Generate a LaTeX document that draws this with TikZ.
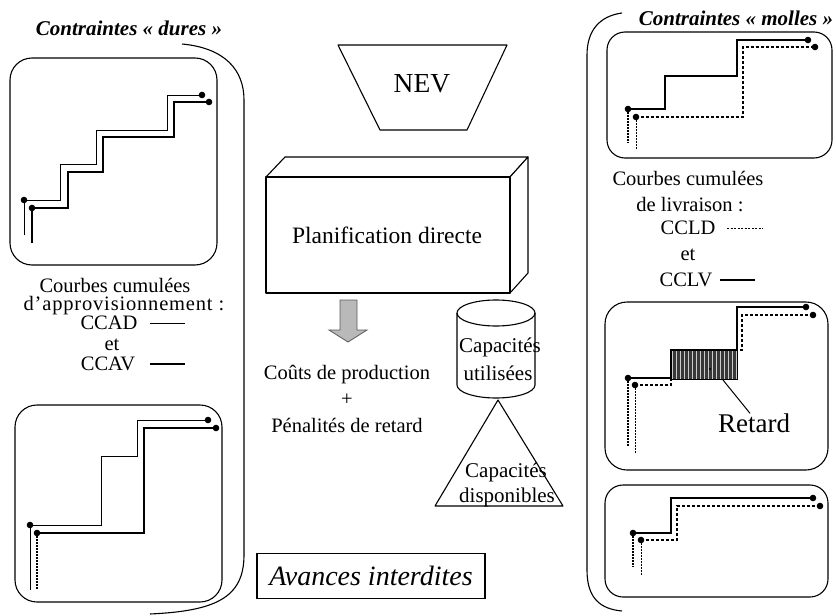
\documentclass[tikz,border=0pt]{standalone}
\usepackage{fontspec}
\setmainfont{Liberation Serif}
\begin{document}
\begin{tikzpicture}[x=1pt,y=-1pt]
\tikzset{
  frame/.style={draw, line width=1.1pt, rounded corners=22pt},
  brk/.style={line width=1.1pt},
  thinc/.style={line width=1pt},
  thickc/.style={line width=2.2pt},
  dashc/.style={line width=1.3pt, dash pattern=on 3pt off 2pt},
  dotc/.style={line width=1.7pt, dash pattern=on 1.5pt off 1.5pt},
  thindot/.style={line width=0.9pt, dash pattern=on 1.5pt off 1.5pt},
  body/.style={font=\fontsize{20.5}{22}\selectfont, inner sep=0pt},
  ttl/.style={font=\fontsize{21}{24}\selectfont\bfseries\itshape, inner sep=0pt},
  caps/.style={font=\fontsize{21}{24}\selectfont, inner sep=0pt},
  shape3d/.style={draw, line width=1.1pt, fill=white, line join=round}
}
\useasboundingbox (0,0) rectangle (836,616);

% ---------- brackets ----------
\draw[brk] (182,44) .. controls (225,48) and (244,70) .. (244,100) -- (244,555)
  .. controls (244,598) and (215,611) .. (150,614);
\draw[brk] (622,13) .. controls (600,16) and (587,30) .. (587,55) -- (587,570)
  .. controls (587,598) and (600,609) .. (622,611);

% ---------- titles ----------
\node[ttl] (tdures) at (129,28) {Contraintes « dures »};
\node[ttl] (tmolles) at (736,18) {Contraintes « molles »};

% ---------- top-left box ----------
\draw[frame] (10,58) rectangle (217,265);
\draw[thinc] (24,235) -- (24,200) -- (60,200) -- (60,164) -- (96,164) -- (96,130)
  -- (167,130) -- (167,95) -- (202,95);
\draw[thickc] (32,243) -- (32,208) -- (68,208) -- (68,172) -- (103,172) -- (103,137)
  -- (174,137) -- (174,102) -- (209,102);
\foreach \p in {(24,200),(202,95),(32,208),(209,102)} \fill \p circle[radius=3.3];

% ---------- left legend ----------
\node[body] (lc1) at (115,285) {Courbes cumulées};
\node[body, font=\fontsize{20.5}{22}\selectfont\addfontfeature{LetterSpace=4}] (lc2) at (124,306) {d’approvisionnement :};
\node[body] (lccad) at (109,323) {CCAD};
\node[body] (let) at (112,345) {et};
\node[body] (lccav) at (108,364) {CCAV};
\draw[thinc] (150,323) -- (185,323);
\draw[thickc] (150,364) -- (185,364);

% ---------- bottom-left box ----------
\draw[frame] (15,405) rectangle (222,602);
\draw[thinc] (30,590) -- (30,525) -- (101,525) -- (101,456) -- (137,456) -- (137,420) -- (208,420);
\draw[thickc] (37,533) -- (144,533) -- (144,428) -- (216,428);
\draw[dotc] (37,533) -- (37,590);
\foreach \p in {(30,525),(208,420),(37,533),(216,428)} \fill \p circle[radius=3.3];

% ---------- NEV ----------
\draw[shape3d] (338,45) -- (507,45) -- (467,130) -- (380,130) -- cycle;
\node[font=\fontsize{27.5}{30}\selectfont, inner sep=0pt] (nev) at (422,84) {NEV};

% ---------- Planification directe box ----------
\draw[shape3d] (266,177) -- (285,157) -- (528,157) -- (510,177) -- cycle;
\draw[shape3d] (510,177) -- (528,157) -- (528,273) -- (510,293) -- cycle;
\draw[shape3d] (266,177) rectangle (510,293);
\node[font=\fontsize{23.5}{26}\selectfont, inner sep=0pt] (plan) at (387,235) {Planification directe};

% ---------- gray arrow ----------
\draw[fill=gray!55, draw=black!65, line width=0.8pt]
  (340,300) -- (357,300) -- (357,330) -- (367,330) -- (348,342) -- (329,330) -- (340,330) -- cycle;

\node[body] (couts) at (347,375) {Coûts de production};
\node[body] (plus) at (347,400) {+};
\node[body] (pen) at (347,425) {Pénalités de retard};

% ---------- triangle & cylinder ----------
\draw[shape3d] (498,400) -- (563,506) -- (435,506) -- cycle;
\node[caps] (cdisp1) at (506,472) {Capacités};
\node[caps] (cdisp2) at (507,497) {disponibles};
\draw[shape3d] (457,313) -- (457,385) arc[start angle=180, end angle=0, x radius=39, y radius=13] -- (535,313);
\draw[line width=1.1pt] (496,313) ellipse[x radius=39, y radius=13];
\node[caps] (cutil1) at (500,347) {Capacités};
\node[caps] (cutil2) at (498,373) {utilisées};

% ---------- Avances interdites ----------
\node[draw, line width=1.1pt, minimum width=228pt, minimum height=45pt, inner sep=0pt,
  font=\fontsize{28}{30}\selectfont\itshape] (avances) at (371,576) {Avances interdites};

% ---------- top-right box ----------
\draw[frame, rounded corners=18pt] (607,32) rectangle (832,158);
\draw[dashc] (636,117) -- (743,117) -- (743,47) -- (815,47);
\draw[thindot] (636,117) -- (636,150);
\draw[thickc] (628,109) -- (665,109) -- (665,76) -- (737,76) -- (737,40) -- (808,40);
\draw[dotc] (628,109) -- (628,143);
\foreach \p in {(628,109),(808,40),(636,117),(815,47)} \fill \p circle[radius=3.3];

% ---------- right legend ----------
\node[body] (rc1) at (688,178) {Courbes cumulées};
\node[body] (rc2) at (690,205) {de livraison :};
\node[body] (rccld) at (688,228) {CCLD};
\node[body] (ret) at (688,255) {et};
\node[body] (rcclv) at (686,280) {CCLV};
\draw[line width=1pt, dash pattern=on 2pt off 1.5pt] (727,228) -- (763,228);
\draw[thickc] (720,280) -- (755,280);

% ---------- middle-right box ----------
\draw[frame] (605,302) rectangle (828,470);
\draw[dashc] (635,385) -- (671,385) -- (671,379) -- (737,379) -- (737,350) -- (742,350) -- (742,315) -- (813,315);
\draw[thindot] (635,385) -- (635,453);
\fill[black!78] (671,350) rectangle (737,379);
\draw[gray!40, line width=0.25pt, step=4] (671,350) grid (737,379);
\draw[line width=0.9pt] (671,350) rectangle (737,379);
\coordinate (retpt) at (723,380);
\fill (710,369) circle[radius=1.2];
\draw[thickc] (628,378) -- (671,378) -- (671,350) -- (737,350) -- (737,307) -- (806,307);
\draw[dotc] (628,378) -- (628,447);
\foreach \p in {(628,378),(806,307),(635,385),(813,315)} \fill \p circle[radius=3.3];
\node[font=\fontsize{27}{30}\selectfont, inner sep=0pt] (retard) at (754,423) {Retard};
\draw[line width=1pt] (retpt) -- (retard.north -| 750,0);

% ---------- bottom-right box ----------
\draw[frame, rounded corners=18pt] (605,485) rectangle (828,597);
\draw[dashc] (641,540) -- (677,540) -- (677,506) -- (820,506);
\draw[thindot] (641,540) -- (641,575);
\draw[thickc] (633,533) -- (671,533) -- (671,498) -- (813,498);
\draw[dotc] (633,533) -- (633,567);
\foreach \p in {(633,533),(813,498),(641,540),(820,506)} \fill \p circle[radius=3.3];
\end{tikzpicture}
\end{document}
